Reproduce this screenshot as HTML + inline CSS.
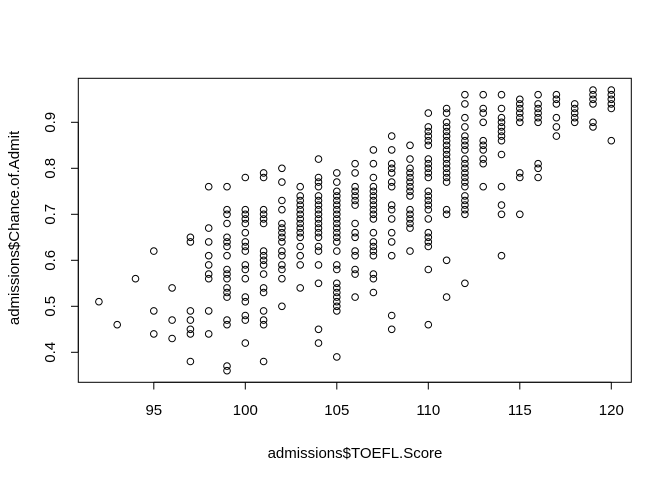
<!DOCTYPE html>
<html><head><meta charset="utf-8"><style>
html,body{margin:0;padding:0;background:#fff;}
svg{display:block;font-family:"Liberation Sans",Arial,sans-serif;}
</style></head><body>
<svg id="chart" width="672" height="480" viewBox="0 0 672 480" xmlns="http://www.w3.org/2000/svg">
<rect width="672" height="480" fill="#fff"/>
<rect x="78.3" y="78.3" width="553" height="304" fill="none" stroke="#000" stroke-width="1"/>
<g id="xaxis"></g>
<g id="yaxis"></g>
<g id="pts"></g>
<text x="355" y="458" text-anchor="middle" font-size="15">admissions$TOEFL.Score</text>
<text transform="translate(19,228) rotate(-90)" text-anchor="middle" font-size="15">admissions$Chance.of.Admit</text>
</svg>
<script>
const xTicks = [95, 100, 105, 110, 115, 120];
const yTicks = [0.4, 0.5, 0.6, 0.7, 0.8, 0.9];
const toeflScores = [92,93,94,95,96,97,98,99,100,101,102,103,104,105,106,107,108,109,110,111,112,113,114,115,116,117,118,119,120];
const chanceValues = [
 [0.51],[0.46],[0.56],[0.62,0.49,0.44],[0.54,0.47,0.43],
 [0.65,0.64,0.49,0.47,0.45,0.44,0.38],
 [0.76,0.67,0.64,0.61,0.59,0.57,0.56,0.49,0.44],
 [0.76,0.71,0.70,0.68,0.65,0.64,0.63,0.61,0.58,0.57,0.56,0.54,0.53,0.52,0.47,0.46,0.37,0.36],
 [0.78,0.71,0.70,0.69,0.68,0.66,0.64,0.63,0.62,0.59,0.58,0.56,0.52,0.51,0.48,0.47,0.42],
 [0.79,0.78,0.71,0.70,0.69,0.68,0.62,0.61,0.60,0.59,0.57,0.54,0.53,0.49,0.47,0.46,0.38],
 [0.80,0.77,0.73,0.71,0.68,0.67,0.66,0.65,0.64,0.62,0.61,0.59,0.58,0.56,0.50],
 [0.76,0.74,0.73,0.72,0.71,0.70,0.69,0.68,0.67,0.66,0.65,0.63,0.61,0.59,0.54],
 [0.82,0.78,0.77,0.76,0.74,0.73,0.72,0.71,0.70,0.69,0.68,0.67,0.66,0.65,0.63,0.62,0.59,0.55,0.45,0.42],
 [0.79,0.77,0.75,0.74,0.73,0.72,0.71,0.70,0.69,0.68,0.67,0.66,0.65,0.64,0.62,0.59,0.58,0.55,0.54,0.53,0.52,0.51,0.50,0.49,0.39],
 [0.81,0.79,0.76,0.75,0.74,0.73,0.72,0.68,0.66,0.65,0.62,0.61,0.58,0.57,0.52],
 [0.84,0.81,0.78,0.76,0.75,0.74,0.73,0.72,0.71,0.70,0.69,0.66,0.64,0.63,0.62,0.61,0.57,0.56,0.53],
 [0.87,0.84,0.81,0.80,0.79,0.77,0.76,0.72,0.71,0.69,0.66,0.64,0.61,0.48,0.45],
 [0.85,0.82,0.80,0.79,0.78,0.77,0.76,0.75,0.74,0.71,0.70,0.69,0.68,0.67,0.62],
 [0.92,0.89,0.88,0.87,0.86,0.85,0.82,0.81,0.80,0.79,0.78,0.75,0.74,0.73,0.72,0.71,0.69,0.66,0.65,0.64,0.63,0.58,0.46],
 [0.93,0.92,0.90,0.89,0.88,0.87,0.86,0.85,0.84,0.83,0.82,0.81,0.80,0.79,0.78,0.77,0.71,0.70,0.60,0.52],
 [0.96,0.94,0.91,0.89,0.87,0.86,0.85,0.84,0.82,0.81,0.80,0.79,0.78,0.77,0.76,0.74,0.73,0.72,0.71,0.70,0.55],
 [0.96,0.93,0.92,0.90,0.86,0.85,0.84,0.82,0.81,0.76],
 [0.96,0.93,0.91,0.90,0.89,0.88,0.87,0.86,0.83,0.76,0.72,0.70,0.61],
 [0.95,0.94,0.93,0.92,0.91,0.90,0.79,0.78,0.70],
 [0.96,0.94,0.93,0.92,0.91,0.90,0.81,0.80,0.78],
 [0.96,0.95,0.94,0.91,0.89,0.87],
 [0.94,0.93,0.92,0.91,0.90],
 [0.97,0.96,0.95,0.94,0.90,0.89],
 [0.97,0.96,0.95,0.94,0.93,0.86]
];
const NS = 'http://www.w3.org/2000/svg';
function xs(v){ return 153.8 + (v - 95) * 18.3; }
function ys(v){ return 352.3 - (v - 0.4) * 460; }
function mk(tag, attrs, parent){ const e = document.createElementNS(NS, tag); for (const k in attrs) e.setAttribute(k, attrs[k]); parent.appendChild(e); return e; }
const xg = document.getElementById('xaxis');
mk('line', {x1: xs(xTicks[0]), x2: xs(xTicks[xTicks.length-1]), y1: 382.3, y2: 382.3, stroke: '#000'}, xg);
xTicks.forEach(t => {
  const l = mk('line', {x1: xs(t), x2: xs(t), y1: 382.3, y2: 389.5, stroke: '#000'}, xg);
  
  
  const tx = mk('text', {x: xs(t), y: 415, 'text-anchor': 'middle', 'font-size': 15}, xg);
  tx.textContent = String(t);
  
  
});
const yg = document.getElementById('yaxis');
mk('line', {x1: 78.3, x2: 78.3, y1: ys(yTicks[0]), y2: ys(yTicks[yTicks.length-1]), stroke: '#000'}, yg);
yTicks.forEach(t => {
  const l = mk('line', {x1: 71, x2: 78.3, y1: ys(t), y2: ys(t), stroke: '#000'}, yg);
  
  
  const tx = mk('text', {transform: 'translate(55,' + ys(t) + ') rotate(-90)', 'text-anchor': 'middle', 'font-size': 15}, yg);
  tx.textContent = t.toFixed(1);
  
  
});
const pg = document.getElementById('pts');
toeflScores.forEach((s, i) => {
  chanceValues[i].forEach(v => {
    const c = mk('circle', {cx: xs(s), cy: ys(v), r: 3.3, fill: 'none', stroke: '#000', 'stroke-width': 1}, pg);
    
    
  });
});
</script>
</body></html>
